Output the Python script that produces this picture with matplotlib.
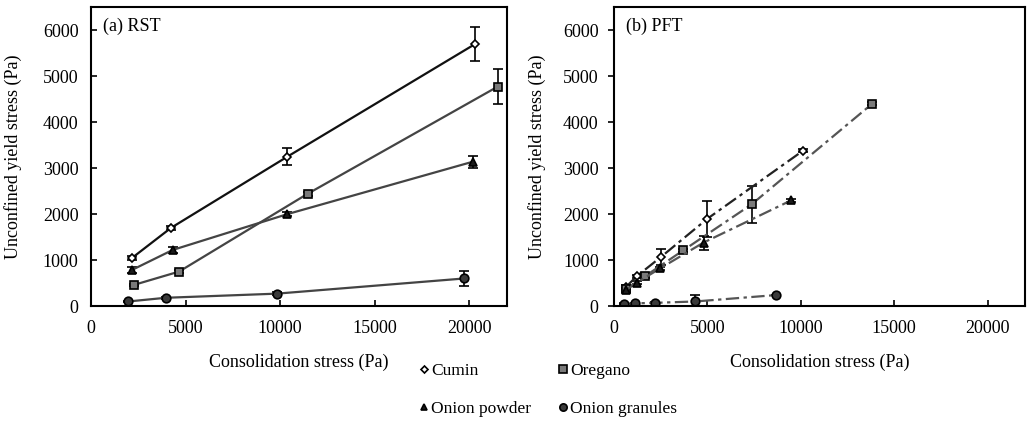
import numpy as np
import matplotlib
matplotlib.use("Agg")
import matplotlib.pyplot as plt
from matplotlib.lines import Line2D

plt.rcParams['font.family'] = ['Liberation Serif', 'DejaVu Serif']

# (a) RST data
rst_cumin_x = [2150, 4230, 10390, 20320]
rst_cumin_y = [1040, 1700, 3250, 5700]
rst_cumin_e = [40, 40, 180, 370]
rst_oreg_x = [2270, 4660, 11450, 21500]
rst_oreg_y = [460, 750, 2440, 4770]
rst_oreg_e = [30, 30, 40, 380]
rst_powd_x = [2190, 4320, 10390, 20200]
rst_powd_y = [790, 1220, 2000, 3140]
rst_powd_e = [70, 70, 40, 130]
rst_gran_x = [1980, 3950, 9820, 19740]
rst_gran_y = [100, 180, 270, 600]
rst_gran_e = [20, 20, 30, 165]

# (b) PFT data
pft_cumin_x = [650, 1220, 2520, 5000, 10120]
pft_cumin_y = [420, 650, 1070, 1900, 3380]
pft_cumin_e = [30, 30, 170, 390, 30]
pft_oreg_x = [650, 1660, 3700, 7360, 13820]
pft_oreg_y = [370, 650, 1210, 2210, 4400]
pft_oreg_e = [30, 30, 30, 400, 30]
pft_powd_x = [620, 1220, 2470, 4790, 9490]
pft_powd_y = [340, 510, 820, 1380, 2300]
pft_powd_e = [30, 30, 30, 150, 30]
pft_gran_x = [520, 1140, 2180, 4360, 8690]
pft_gran_y = [50, 60, 70, 100, 240]
pft_gran_e = [10, 10, 10, 140, 10]

names = ['Cumin', 'Oregano', 'Onion powder', 'Onion granules']
markers = ['D', 's', '^', 'o']
faces = ['white', '#7a7a7a', '#1a1a1a', '#3a3a3a']
msizes = [4.2, 6.0, 5.6, 6.2]
rst_lc = ['#111111', '#444444', '#444444', '#444444']
pft_lc = ['#222222', '#555555', '#555555', '#555555']

rst = [(rst_cumin_x, rst_cumin_y, rst_cumin_e), (rst_oreg_x, rst_oreg_y, rst_oreg_e),
       (rst_powd_x, rst_powd_y, rst_powd_e), (rst_gran_x, rst_gran_y, rst_gran_e)]
pft = [(pft_cumin_x, pft_cumin_y, pft_cumin_e), (pft_oreg_x, pft_oreg_y, pft_oreg_e),
       (pft_powd_x, pft_powd_y, pft_powd_e), (pft_gran_x, pft_gran_y, pft_gran_e)]

fig = plt.figure(figsize=(10.28, 4.21), dpi=100)
ax1 = fig.add_axes([0.0885, 0.273, 0.4047, 0.71])
ax2 = fig.add_axes([0.5973, 0.273, 0.3998, 0.71])

def draw(ax, data, ls, lcol, tag, ydir, ypad, ylpad):
    for i, (x, y, e) in enumerate(data):
        ax.errorbar(x, y, yerr=e, fmt=markers[i], ls=ls, color=lcol[i], lw=1.6,
                    ms=msizes[i], mfc=faces[i], mec='black', mew=1.2,
                    ecolor='black', elinewidth=1.2, capsize=3.5, capthick=1.2)
    ax.set_xlim(0, 22000)
    ax.set_ylim(0, 6500)
    ax.set_xticks([0, 5000, 10000, 15000, 20000])
    ax.set_yticks([0, 1000, 2000, 3000, 4000, 5000, 6000])
    ax.tick_params(axis='x', direction='in', length=4, width=1.2, labelsize=13, pad=10)
    ax.tick_params(axis='y', direction=ydir, length=4, width=1.2, labelsize=13, pad=ypad)
    for s in ax.spines.values():
        s.set_linewidth(1.5)
    ax.set_xlabel('Consolidation stress (Pa)', fontsize=13, labelpad=12)
    ax.set_ylabel('Unconfined yield stress (Pa)', fontsize=13, labelpad=ylpad)
    ax.text(0.028, 0.965, tag, transform=ax.transAxes, fontsize=13, va='top', ha='left')

draw(ax1, rst, '-', rst_lc, '(a) RST', 'in', 9, 15)
draw(ax2, pft, (0, (6, 2, 1.5, 2)), pft_lc, '(b) PFT', 'out', 7, 12)

order = [0, 2, 1, 3]
handles = [Line2D([], [], ls='none', marker=markers[i], ms=msizes[i] * 0.85,
                  mfc=faces[i], mec='black', mew=1.2) for i in order]
fig.legend(handles, [names[i] for i in order], loc='upper left',
           bbox_to_anchor=(0.401, 0.155), ncol=2, frameon=False, fontsize=12.5,
           handlelength=0.5, handletextpad=0.2, columnspacing=1.55,
           labelspacing=1.25, borderaxespad=0)

fig.savefig('out.png', dpi=100)
